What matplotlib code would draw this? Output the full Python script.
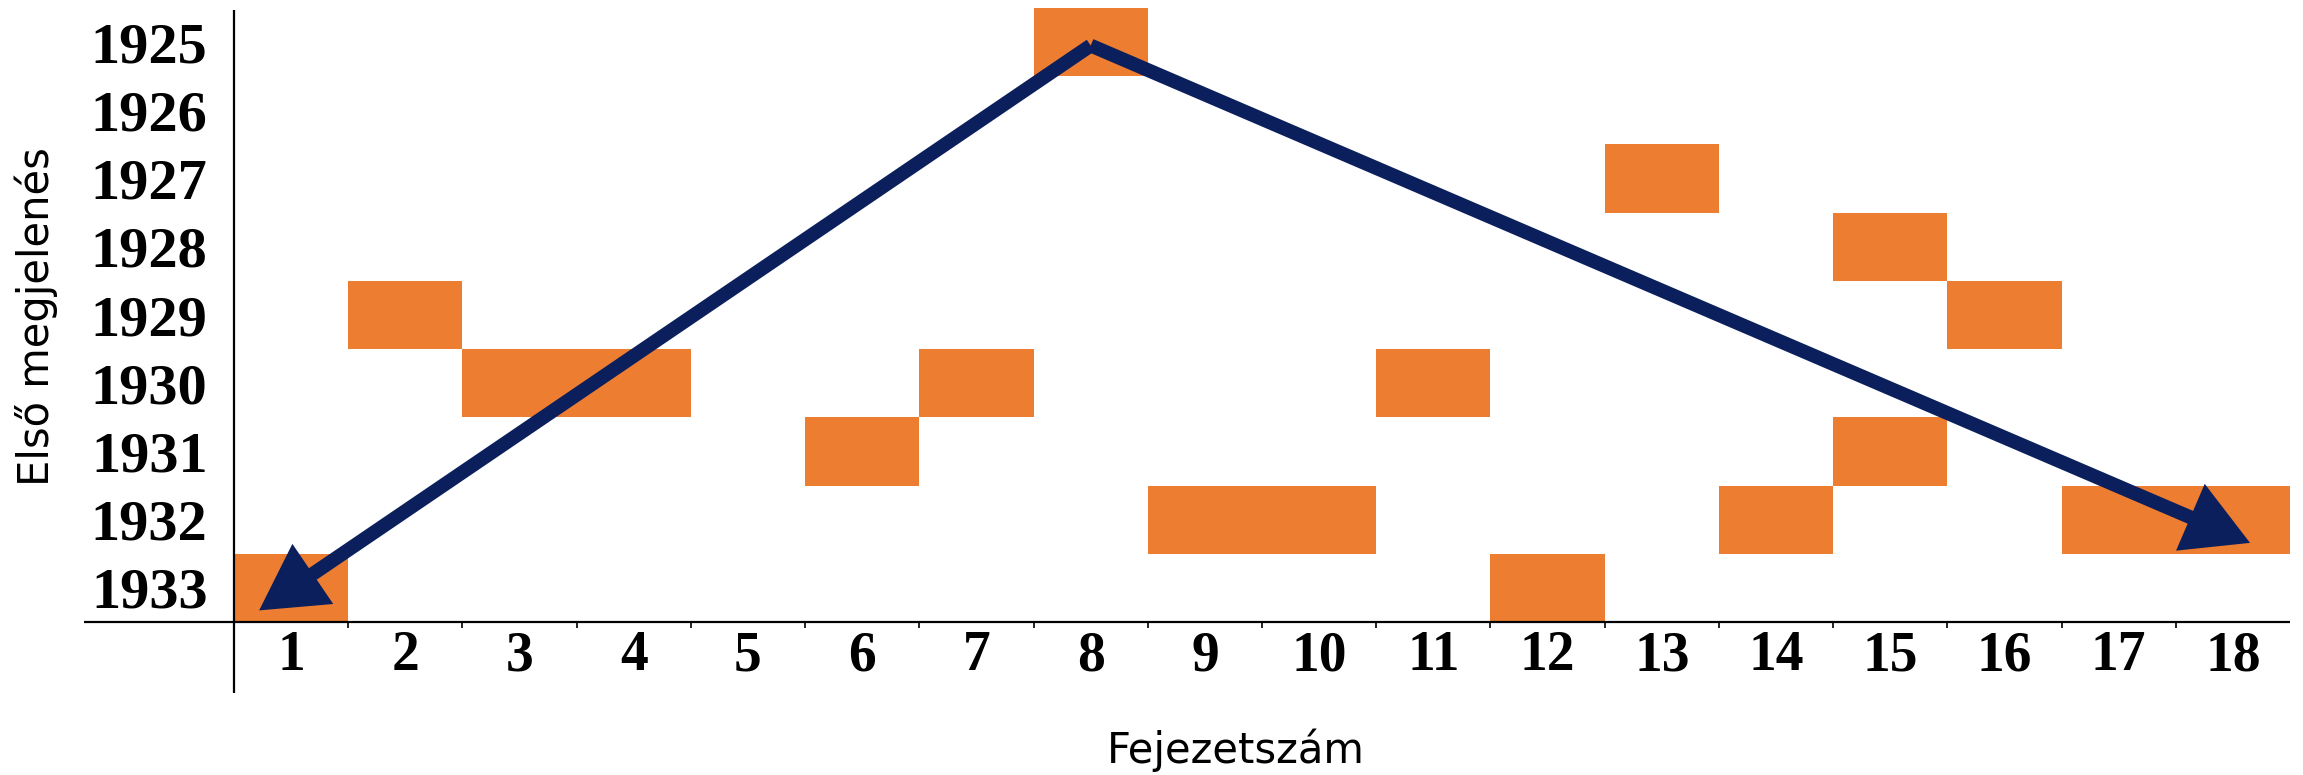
import matplotlib
matplotlib.use("Agg")
import matplotlib.pyplot as plt
from matplotlib.ticker import FixedLocator

# ---- data ----
chapter_ticks = list(range(1, 19))
year_ticks = list(range(1925, 1934))
cell_chapters = [1, 2, 3, 4, 6, 7, 8, 9, 10, 11, 12, 13, 14, 15, 15, 16, 17, 18]
cell_years = [1933, 1929, 1930, 1930, 1931, 1930, 1925, 1932, 1932, 1930,
              1933, 1927, 1932, 1928, 1931, 1929, 1932, 1932]
trend_apex = (8.0, 1925.05)
trend_left_end = (0.72, 1933.33)
trend_right_end = (18.15, 1932.34)

xlabel_text = "Fejezetszám"
ylabel_text = "Első megjelenés"

orange = "#ED7D31"
navy = "#0B1F5C"

W, H = 2303, 775
fig = plt.figure(figsize=(W / 100, H / 100), dpi=100)
ax = fig.add_axes([234 / W, 1 - 622 / H, (2290 - 234) / W, (622 - 8) / H])

ax.bar(cell_chapters, [1] * len(cell_chapters), width=1.0,
       bottom=[y - 0.5 for y in cell_years], color=orange, linewidth=0,
       align="center", zorder=2)

ax.set_xlim(0.5, 18.5)
ax.set_ylim(1933.5, 1924.5)

for end in (trend_left_end, trend_right_end):
    ax.annotate("", xy=end, xytext=trend_apex,
                arrowprops=dict(arrowstyle="-|>,head_length=0.75,head_width=0.42",
                                color=navy, lw=10, mutation_scale=42,
                                shrinkA=0, shrinkB=0, joinstyle="miter",
                                capstyle="butt"),
                zorder=3)

for s in ax.spines.values():
    s.set_visible(False)

# axis lines
ax.plot([-0.073, 1.0], [0, 0], transform=ax.transAxes, clip_on=False,
        color="black", lw=1.6, zorder=4, solid_capstyle="butt")
ax.plot([0, 0], [-0.115, 0.997], transform=ax.transAxes, clip_on=False,
        color="black", lw=1.6, zorder=4, solid_capstyle="butt")

ax.set_xticks(chapter_ticks)
ax.set_xticklabels([str(c) for c in chapter_ticks],
                   fontdict=dict(family="Liberation Serif", weight="bold", size=40))
ax.set_yticks(year_ticks)
ax.set_yticklabels([str(y) for y in year_ticks],
                   fontdict=dict(family="Liberation Serif", weight="bold", size=42))
ax.tick_params(axis="x", length=0, pad=6)
ax.tick_params(axis="y", length=0, pad=19)
ax.xaxis.set_minor_locator(FixedLocator([c + 0.5 for c in chapter_ticks[:-1]]))
ax.tick_params(axis="x", which="minor", length=4, width=1.2, direction="out")

fig.text(1236 / W, 1 - 750 / H, xlabel_text, ha="center", va="center",
         fontsize=30, family="DejaVu Sans")
fig.text(36 / W, 1 - 317 / H, ylabel_text, ha="center", va="center",
         rotation=90, fontsize=30, family="DejaVu Sans")

fig.savefig("out.png", dpi=100)
